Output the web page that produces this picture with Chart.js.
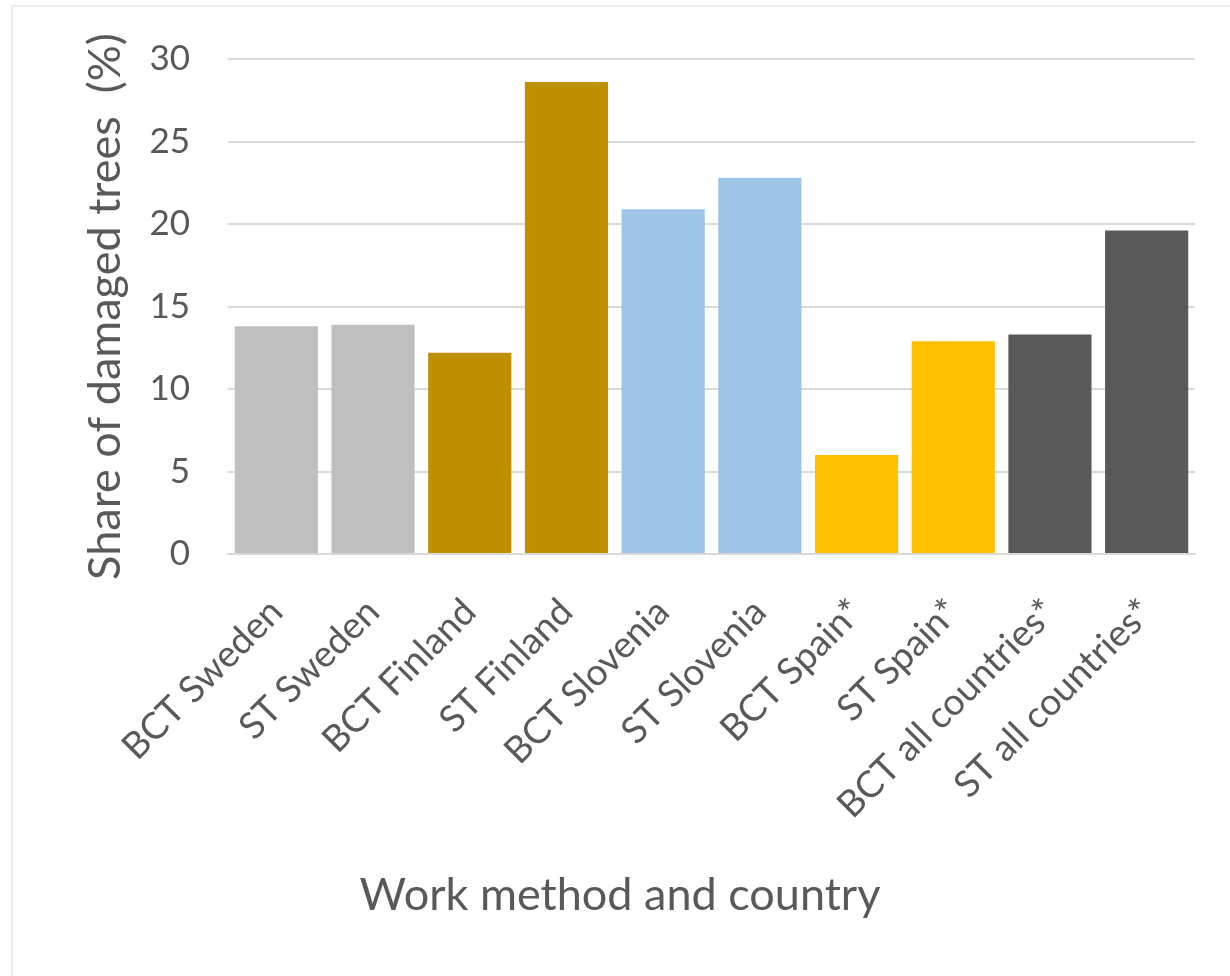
<!DOCTYPE html>
<html>
<head>
<meta charset="utf-8">
<script src="https://cdn.jsdelivr.net/npm/chart.js@4"></script>
<style>
    html, body { margin: 0; padding: 0; background: #fff; }
    #wrap { position: relative; width: 1230px; height: 976px; overflow: hidden; }
    #frame { position: absolute; left: 11px; top: 5px; width: 1240px; height: 990px; border: 2px solid #ececec; box-sizing: border-box; }
    #damageChart { position: absolute; left: 0; top: 0; }
</style>
</head>
<body>
<div id="wrap">
    <div id="frame"></div>
    <canvas id="damageChart" width="1230" height="976"></canvas>
</div>
<script>
// Chart data
const categories = ['BCT Sweden', 'ST Sweden', 'BCT Finland', 'ST Finland', 'BCT Slovenia',
    'ST Slovenia', 'BCT Spain*', 'ST Spain*', 'BCT all countries*', 'ST all countries*'];
const damagedShare = [13.8, 13.9, 12.2, 28.6, 20.9, 22.8, 6.0, 12.9, 13.3, 19.6];
const barColors = ['#bfbfbf', '#bfbfbf', '#bf9000', '#bf9000', '#9dc3e6',
    '#9dc3e6', '#ffc000', '#ffc000', '#595959', '#595959'];
const yTicks = [0, 5, 10, 15, 20, 25, 30];
const xTitle = 'Work method and country';

const fontFamily = 'Lato, "Open Sans", sans-serif';
const textColor = '#595959';

// x axis title, centred under the whole figure like the original
const xTitlePlugin = {
    id: 'xTitle',
    afterDraw: function(chart) {
        const c = chart.ctx;
        c.save();
        c.font = '45px ' + fontFamily;
        c.fillStyle = textColor;
        c.textAlign = 'center';
        c.textBaseline = 'middle';
        c.fillText(xTitle, 620, 895);
        c.restore();
    }
};

document.addEventListener('DOMContentLoaded', function() {
    const ctx = document.getElementById('damageChart').getContext('2d');

    new Chart(ctx, {
        type: 'bar',
        data: {
            labels: categories,
            datasets: [{
                label: 'Share of damaged trees (%)',
                data: damagedShare,
                backgroundColor: barColors,
                borderWidth: 0,
                barPercentage: 0.86,
                categoryPercentage: 1.0
            }]
        },
        plugins: [xTitlePlugin],
        options: {
            responsive: false,
            animation: false,
            layout: {
                padding: { left: 78, top: 49, right: 35, bottom: 52 }
            },
            plugins: {
                legend: { display: false },
                tooltip: { enabled: false }
            },
            scales: {
                x: {
                    grid: { display: false },
                    border: { color: '#d9d9d9', width: 2 },
                    ticks: {
                        color: textColor,
                        font: { family: fontFamily, size: 37 },
                        minRotation: 45,
                        maxRotation: 45,
                        padding: 28
                    },
                    afterFit: function(scale) {
                        scale.height = 976 - 52 - 554;
                    }
                },
                y: {
                    min: 0,
                    max: 30,
                    afterBuildTicks: function(scale) {
                        scale.ticks = yTicks.map(v => ({ value: v }));
                    },
                    grid: {
                        color: '#d9d9d9',
                        lineWidth: 2,
                        drawTicks: false
                    },
                    border: { display: false },
                    ticks: {
                        color: textColor,
                        font: { family: fontFamily, size: 35 },
                        padding: 38
                    },
                    title: {
                        display: true,
                        text: 'Share of damaged trees  (%)',
                        color: textColor,
                        font: { family: fontFamily, size: 45 },
                        padding: 0
                    },
                    afterFit: function(scale) {
                        scale.width = 228 - 78;
                    }
                }
            }
        }
    });
});
</script>
</body>
</html>
